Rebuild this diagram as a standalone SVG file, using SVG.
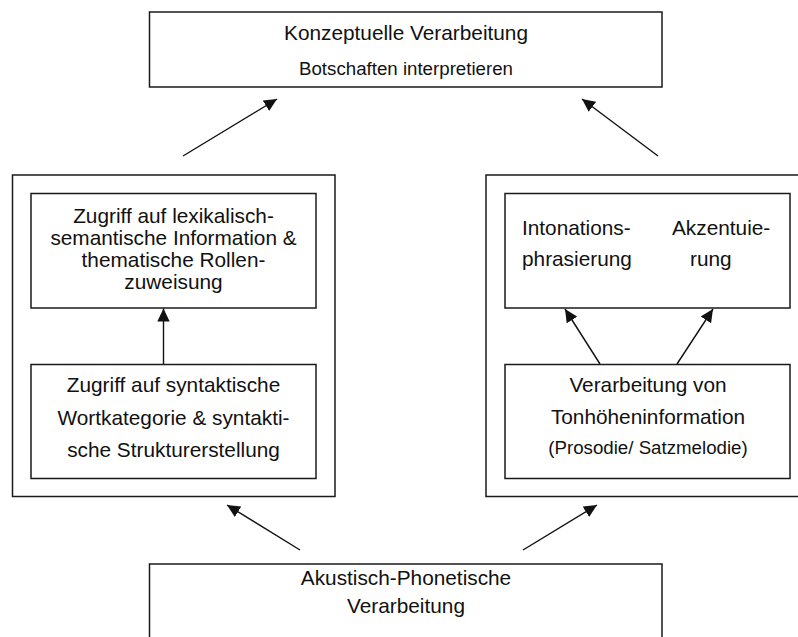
<svg xmlns="http://www.w3.org/2000/svg" width="798" height="637" viewBox="0 0 798 637">
<style>
.box{fill:#fff;stroke:#1a1a1a;stroke-width:1.5}
.t{font-family:"Liberation Sans",Arial,Helvetica,sans-serif;font-size:20.8px;fill:#111}
.s{font-family:"Liberation Sans",Arial,Helvetica,sans-serif;font-size:18.7px;fill:#111}
.c{text-anchor:middle}
.ln{stroke:#111;stroke-width:1.4;fill:none;marker-end:url(#ah)}
</style>
<defs>
<marker id="ah" markerUnits="userSpaceOnUse" markerWidth="14" markerHeight="14" refX="13" refY="7" orient="auto">
<path d="M0,0.8 L13,7 L0,13.2 z" fill="#111"/>
</marker>
</defs>
<rect width="798" height="637" fill="#fff"/>
<g id="konzeptuell">
<rect class="box" x="149.5" y="12" width="512.5" height="75"/>
<text class="t c" x="406" y="40">Konzeptuelle Verarbeitung</text>
<text class="s c" x="406" y="75">Botschaften interpretieren</text>
</g>
<g id="links-aussen">
<rect class="box" x="12.5" y="175" width="322.5" height="321.5"/>
</g>
<g id="lexikalisch">
<rect class="box" x="31" y="193.5" width="285" height="114.5"/>
<text class="t c" x="173.5" y="223">Zugriff auf lexikalisch-</text>
<text class="t c" x="173.5" y="245">semantische Information &amp;</text>
<text class="t c" x="173.5" y="267">thematische Rollen-</text>
<text class="t c" x="173.5" y="289">zuweisung</text>
</g>
<g id="syntaktisch">
<rect class="box" x="31" y="364.5" width="285" height="114"/>
<text class="t c" x="173.5" y="392">Zugriff auf syntaktische</text>
<text class="t c" x="173.5" y="425">Wortkategorie &amp; syntakti-</text>
<text class="t c" x="173.5" y="457">sche Strukturerstellung</text>
</g>
<g id="rechts-aussen">
<rect class="box" x="486" y="175" width="330" height="321.5"/>
</g>
<g id="intonation">
<rect class="box" x="505" y="193.5" width="285" height="114.5"/>
<text class="t" x="522" y="235">Intonations-</text>
<text class="t" x="522" y="266">phrasierung</text>
<text class="t" x="672" y="235">Akzentuie-</text>
<text class="t" x="690" y="266">rung</text>
</g>
<g id="tonhoehe">
<rect class="box" x="505" y="364.5" width="285" height="114"/>
<text class="t c" x="648" y="392">Verarbeitung von</text>
<text class="t c" x="648" y="424">Tonhöheninformation</text>
<text class="s c" x="648" y="454">(Prosodie/ Satzmelodie)</text>
</g>
<g id="akustisch">
<rect class="box" x="149.5" y="564" width="512.5" height="90"/>
<text class="t c" x="406" y="585">Akustisch-Phonetische</text>
<text class="t c" x="406" y="613">Verarbeitung</text>
</g>
<g id="connectors">
<line class="ln" x1="183" y1="156" x2="277" y2="99"/>
<line class="ln" x1="658" y1="156" x2="582" y2="99"/>
<line class="ln" x1="163.5" y1="364" x2="163.5" y2="308.5"/>
<line class="ln" x1="600" y1="364" x2="565" y2="309"/>
<line class="ln" x1="677" y1="364" x2="713" y2="309"/>
<line class="ln" x1="300" y1="550" x2="227" y2="505"/>
<line class="ln" x1="523" y1="550" x2="597" y2="505"/>
</g>
</svg>
